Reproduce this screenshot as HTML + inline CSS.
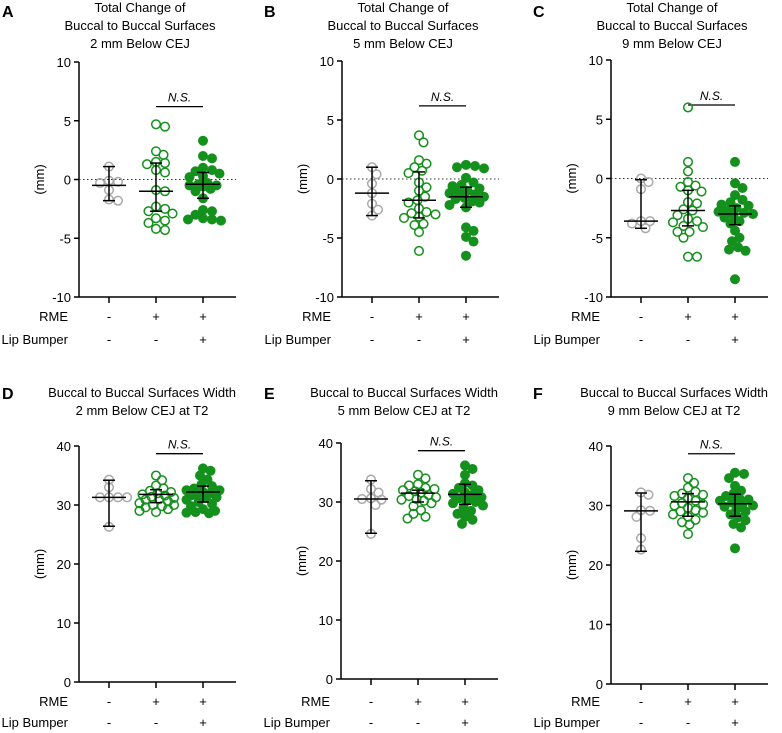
<!DOCTYPE html>
<html><head><meta charset="utf-8">
<style>
html,body{margin:0;padding:0;background:#fff;}
svg{display:block;font-family:"Liberation Sans",Arial,sans-serif;}
</style></head>
<body>
<svg id="fig" width="782" height="733" viewBox="0 0 782 733" xmlns="http://www.w3.org/2000/svg"></svg>
<script>
// ---------- data ----------
const panelLetters = ["A","B","C","D","E","F"];
const panelTitles = [
  ["Total Change of","Buccal to Buccal Surfaces","2 mm Below CEJ"],
  ["Total Change of","Buccal to Buccal Surfaces","5 mm Below CEJ"],
  ["Total Change of","Buccal to Buccal Surfaces","9 mm Below CEJ"],
  ["Buccal to Buccal Surfaces Width","2 mm Below CEJ at T2"],
  ["Buccal to Buccal Surfaces Width","5 mm Below CEJ at T2"],
  ["Buccal to Buccal Surfaces Width","9 mm Below CEJ at T2"]
];
const topTicks = [10,5,0,-5,-10];
const bottomTicks = [40,30,20,10,0];
const rmeLabels = ["-","+","+"];
const lipLabels = ["-","-","+"];

const aCtrl = [1.1,-0.1,-0.2,-0.3,-0.9,-1.7,-1.8];
const aRme = [4.7,4.5,2.4,2.1,1.5,1.4,1.3,0.8,0.6,-0.9,-1.0,-2.3,-2.5,-2.7,-2.9,-3.3,-3.5,-3.7,-4.2,-4.3];
const aLip = [3.3,2.0,1.8,1.0,0.8,0.7,0.5,0.3,0.2,-0.3,-0.4,-0.5,-0.5,-0.6,-0.8,-1.0,-1.6,-2.6,-2.7,-3.0,-3.3,-3.4,-3.4,-3.5];
const bCtrl = [1.0,0.4,-0.4,-1.2,-2.1,-2.6,-3.1];
const bRme = [3.7,3.1,1.6,1.3,1.0,0.7,0.5,-0.3,-0.7,-1.0,-1.5,-1.8,-2.0,-2.5,-2.8,-2.9,-3.0,-3.2,-3.3,-3.8,-3.9,-4.5,-6.1];
const bLip = [1.2,1.1,1.0,0.9,0.1,-0.3,-0.5,-0.6,-0.8,-1.0,-1.1,-1.2,-1.3,-1.5,-1.6,-1.7,-1.9,-2.0,-2.2,-2.4,-4.1,-4.4,-4.9,-5.3,-6.5];
const cCtrl = [0.0,-0.3,-0.9,-3.6,-3.6,-3.8,-4.2];
const cRme = [6.0,1.4,0.6,-0.3,-0.6,-0.7,-1.0,-1.1,-2.0,-2.1,-2.6,-2.7,-3.1,-3.4,-3.6,-3.7,-4.0,-4.1,-4.5,-4.5,-5.0,-6.6,-6.6];
const cLip = [1.4,-0.4,-0.8,-1.4,-1.8,-2.0,-2.2,-2.3,-2.5,-2.7,-2.8,-2.9,-3.0,-3.1,-3.3,-3.6,-3.8,-4.4,-5.0,-5.3,-5.8,-6.0,-6.1,-8.5];
const dCtrl = [34.3,33.0,31.3,31.3,31.3,31.3,26.3];
const dRme = [35.0,34.2,33.3,32.8,32.4,32.2,32.0,31.8,31.6,31.4,31.2,31.0,30.9,30.6,30.3,30.0,30.0,29.8,29.6,29.3,29.0,28.8];
const dLip = [36.2,35.8,35.0,34.3,33.5,33.2,32.8,32.5,32.5,32.2,32.0,31.8,31.6,31.3,31.2,30.9,30.5,30.2,29.8,29.3,29.0,28.8,28.7,28.6];
const eCtrl = [33.8,32.2,31.6,30.6,30.5,30.4,29.5,24.6];
const eRme = [34.6,34.0,33.0,32.8,32.4,32.2,32.0,31.8,31.6,31.2,31.0,30.8,30.5,30.4,30.2,29.8,29.3,28.6,28.0,27.5,27.2];
const eLip = [36.2,35.6,34.6,33.2,32.8,32.4,32.0,31.6,31.4,31.2,30.8,30.6,30.2,30.0,29.8,29.4,29.0,28.5,28.0,27.5,27.0,26.3];
const fCtrl = [32.2,31.8,29.2,29.1,28.1,24.5,22.6];
const fRme = [34.6,33.8,33.0,32.3,32.0,31.8,31.6,31.2,30.8,30.4,30.2,30.0,29.6,29.2,29.0,28.8,28.5,28.1,27.6,27.2,26.8,25.2];
const fLip = [35.5,35.3,34.6,33.3,32.5,32.0,31.6,31.2,31.0,30.8,30.5,30.2,30.0,29.8,29.4,29.0,28.5,28.0,27.5,26.9,26.3,22.8];
// summary: [center, low, high] per group
const aStats = [[-0.5,-1.8,1.1],[-1.0,-2.7,1.4],[-0.4,-1.6,0.6]];
const bStats = [[-1.2,-3.1,1.0],[-1.8,-3.3,0.6],[-1.5,-2.4,-0.7]];
const cStats = [[-3.6,-4.2,-0.1],[-2.7,-4.0,-1.0],[-3.0,-3.9,-2.3]];
const dStats = [[31.3,26.4,34.2],[31.8,30.4,32.6],[32.2,30.5,33.2]];
const eStats = [[30.5,24.7,33.6],[31.5,30.0,32.0],[31.3,29.6,33.0]];
const fStats = [[29.1,22.3,32.1],[30.6,28.2,32.0],[30.3,28.2,31.9]];

const panelGroups = [[aCtrl,aRme,aLip],[bCtrl,bRme,bLip],[cCtrl,cRme,cLip],[dCtrl,dRme,dLip],[eCtrl,eRme,eLip],[fCtrl,fRme,fLip]];
const panelStats = [aStats,bStats,cStats,dStats,eStats,fStats];

// ---------- layout ----------
const NS="http://www.w3.org/2000/svg";
const svg=document.getElementById('fig');
function mk(tag,attrs,parent){const e=document.createElementNS(NS,tag);for(const k in attrs)e.setAttribute(k,attrs[k]);(parent||svg).appendChild(e);return e;}
const axisX=[79,342,611,79,341,611];
const yTopPx=[62,61,60,446,443,446];
const yBotPx=[297,297,297,682,679,684];
const GREY="#a9a9a9", GREEN="#14901c";
const R=4.3;

for(let p=0;p<6;p++){
  const top=p<3;
  const ax=axisX[p];
  const dmin=top?-10:0, dmax=top?10:40;
  const y0=yTopPx[p], y1=yBotPx[p];
  const yS=v=>y1-(v-dmin)/(dmax-dmin)*(y1-y0);
  const cx=[ax+30,ax+77,ax+124];
  const g=mk('g',{});
  
  
  const lt=mk('text',{x:[2,264,533][p%3],y:top?17:399,'font-size':16,'font-weight':'bold'},g);
  lt.textContent=panelLetters[p];
  
  
  const tc=top?ax+61:ax+63;
  panelTitles[p].forEach((line,i)=>{
    const t=mk('text',{x:tc,y:(top?12:397)+i*18,'font-size':13,'text-anchor':'middle'},g);
    t.textContent=line;
    
    
  });
  const yl=mk('line',{x1:ax,y1:y0,x2:ax,y2:y1,stroke:'#000','stroke-width':1.5},g);
  
  
  const xl=mk('line',{x1:ax,y1:y1,x2:ax+157,y2:y1,stroke:'#000','stroke-width':1.5},g);
  
  
  (top?topTicks:bottomTicks).forEach(v=>{
    mk('line',{x1:ax-5,y1:yS(v),x2:ax,y2:yS(v),stroke:'#000','stroke-width':1.5},g);
    const t=mk('text',{x:ax-8,y:yS(v)+5,'font-size':13,'text-anchor':'end'},g);
    t.textContent=v;
    
    
  });
  const ymid=(y0+y1)/2;
  const yt=mk('text',{x:0,y:0,'font-size':13,'text-anchor':'middle',transform:`translate(${ax-35},${ymid}) rotate(-90)`},g);
  yt.textContent='(mm)';
  
  
  if(top){
    const zl=mk('line',{x1:ax,y1:yS(0),x2:ax+157,y2:yS(0),stroke:'#333','stroke-width':1,'stroke-dasharray':'1.5,2.5'},g);
    
    
  }
  const rY=top?321:706, lY=top?344:727;
  cx.forEach((x,i)=>{
    mk('line',{x1:x,y1:y1,x2:x,y2:y1+6,stroke:'#000','stroke-width':1.5},g);
    const a=mk('text',{x:x,y:rY,'font-size':13,'text-anchor':'middle'},g);a.textContent=rmeLabels[i];
    
    
    const b=mk('text',{x:x,y:lY,'font-size':13,'text-anchor':'middle'},g);b.textContent=lipLabels[i];
    
    
  });
  const r1=mk('text',{x:ax-11,y:rY,'font-size':13,'text-anchor':'end'},g);r1.textContent='RME';
  
  
  const r2=mk('text',{x:ax-11,y:lY,'font-size':13,'text-anchor':'end'},g);r2.textContent='Lip Bumper';
  
  
  const nsY=top?yS(6.2):yS(38.7);
  const nl=mk('line',{x1:cx[1],y1:nsY,x2:cx[2],y2:nsY,stroke:'#000','stroke-width':1.3},g);
  
  
  const nt=mk('text',{x:(cx[1]+cx[2])/2,y:nsY-5,'font-size':12,'font-style':'italic','text-anchor':'middle'},g);
  nt.textContent='N.S.';
  
  
  panelGroups[p].forEach((vals,gi)=>{
    const placed=[];
    const sorted=vals.slice().sort((a,b)=>b-a);
    const minD=top?2*R-0.5:2*R-1;
    sorted.forEach(v=>{
      const py=yS(v);
      let best=0,bestScore=-1;
      for(let k=0;k<24;k++){
        const o=(k%2?1:-1)*Math.ceil(k/2)*1.5;
        const d=placed.length?Math.min(...placed.map(q=>Math.hypot(q[0]-o,q[1]-py))):99;
        if(d>=minD){best=o;bestScore=99;break;}
        if(d>bestScore){bestScore=d;best=o;}
      }
      placed.push([best,py]);
      const filled=gi===2, col=gi===0?GREY:GREEN;
      const c=mk('circle',{cx:cx[gi]+best,cy:py,r:filled?R+0.7:R,fill:filled?col:'none',stroke:col,'stroke-width':filled?0:1.5},g);
      
      
    });
  });
  panelStats[p].forEach((s,gi)=>{
    const x=cx[gi];
    const eg=mk('g',{stroke:'#000','stroke-width':1.5},g);
    
    
    mk('line',{x1:x,y1:yS(s[1]),x2:x,y2:yS(s[2])},eg);
    mk('line',{x1:x-6,y1:yS(s[1]),x2:x+6,y2:yS(s[1])},eg);
    mk('line',{x1:x-6,y1:yS(s[2]),x2:x+6,y2:yS(s[2])},eg);
    mk('line',{x1:x-17,y1:yS(s[0]),x2:x+17,y2:yS(s[0])},eg);
  });
}
</script>
</body></html>
